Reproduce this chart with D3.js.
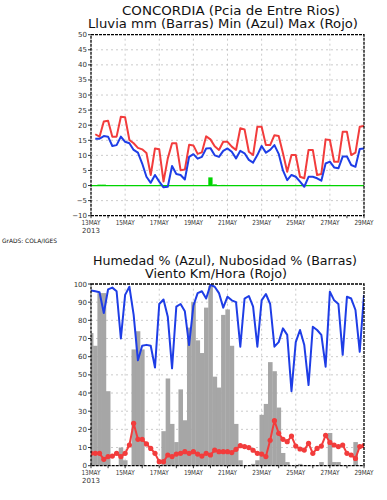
<!DOCTYPE html>
<html><head><meta charset="utf-8">
<script src="https://cdn.jsdelivr.net/npm/d3@7"></script>
<style>
html,body{margin:0;padding:0;background:#fff;}
svg{display:block;font-family:"DejaVu Sans",sans-serif;}
</style></head>
<body><div id="chart"></div>
<script>
// ---- data (6-hourly from 13MAY2013 00Z) ----
const startUTC = Date.UTC(2013, 4, 13, 0);
const stepHours = 6;
const xTickDays = [13, 15, 17, 19, 21, 23, 25, 27, 29];
const tempTicks = [-10, -5, 0, 5, 10, 15, 20, 25, 30, 35, 40, 45, 50];
const pctTicks = [0, 10, 20, 30, 40, 50, 60, 70, 80, 90, 100];

// top panel: temps start at step 1 (06Z)
const tempMax = [17.0,16.2,21.2,21.5,16.2,16.2,22.8,22.6,15.1,14.0,
  12.5,12.0,10.8,3.5,12.3,12.0,1.3,9.0,14.0,14.0,
  5.1,5.3,13.5,13.3,10.5,11.0,16.3,15.3,13.0,11.8,
  14.5,14.5,12.9,11.8,19.0,18.6,11.2,10.1,19.5,19.5,
  13.4,13.4,16.7,16.4,10.7,4.6,10.1,10.1,2.9,2.4,
  11.8,11.8,3.5,3.8,15.3,15.1,7.9,7.9,17.8,17.8,
  10.1,10.9,19.5,19.7];
const tempMin = [15.5,15.5,16.4,16.2,13.1,13.4,16.2,14.5,14.0,11.8,
  10.9,7.3,2.9,0.9,3.5,1.3,-0.6,-0.4,6.5,3.8,
  3.5,2.0,9.5,10.4,8.9,9.5,12.3,12.4,10.0,9.5,
  11.5,12.3,11.2,9.0,11.5,10.7,8.5,7.6,10.1,13.1,
  10.9,11.8,13.4,10.5,5.0,1.8,3.5,2.9,1.3,-0.4,
  2.9,2.9,2.4,1.6,7.3,7.9,6.0,5.7,9.6,9.6,
  6.8,6.2,12.1,12.3];
// precipitation from step 0
const rain = [0,0,0.3,0.3,0,0,0,0,0,0,
  0,0,0,0,0,0,0,0,0,0,
  0,0,0,0,0,0,0,0,2.7,0.4,
  0,0.2,0,0,0,0,0,0,0,0,
  0,0,0,0,0,0,0,0,0,0,
  0,0,0,0,0,0,0,0,0,0,
  0,0,0,0,0];

// bottom panel, from step 0
const humidity = [96.5,96,95.5,84,97,98,96,70,94,98.5,
  83,58,66,66.5,66,54,89,91.5,82,53.6,
  87.5,89,85,66.4,88,95,96,92,99.5,98.5,
  95,87,93,91,90,65.5,92,93.4,87.5,65.5,
  91,94.5,89,65.5,68,75.6,72,41,68,74.7,
  66.4,44.4,76.5,74.7,72,54.5,95.8,91,89,61,
  93,92,85.7,62.7,94];
const cloud = [73,66,95,95,41,0,0,10,3,0,
  64,74,64,0,0,0,0,19,48,23,
  13,42,25,76,90,69,62,87,99,49,
  43,83,86,66,23,3,0,0,1,3,
  28,34,57,52,32,7,2,0,0,1,
  0,0,0,0,2,0,18,2,2,0,
  0,0,13,0,0];
const wind = [6.8,6.8,6.8,3.5,5,5.3,6.8,5,6.8,11.4,
  23.3,14.5,14.5,12,9.5,6.8,2.2,2.2,5.9,5,
  6.4,6.8,7.7,6.8,7.7,6.4,5.3,6.8,5.9,8.6,
  7.7,7.7,7.7,7.2,9,11,10.5,10,8.5,6.8,
  6.4,5,14,24.8,17.8,14.5,13.2,16.3,10.8,9.2,
  8.6,12.3,6.8,9.5,10.8,16.7,12.8,11.4,10.5,11.4,
  6.8,5.9,4,10.5,11];

// ---- drawing ----
const W = 387, H = 500;
const svg = d3.select("#chart").append("svg").attr("width", W).attr("height", H);
const timeAt = i => new Date(startUTC + i * stepHours * 3600e3);
const x = d3.scaleUtc().domain([new Date(startUTC), new Date(Date.UTC(2013,4,29,0))]).range([91, 364]);
const step = x(timeAt(1)) - x(timeAt(0));
const fmt = d => d3.utcFormat("%d%b")(d).toUpperCase();

const RED = "#f23c3c", BLUE = "#1e3de6", GREEN = "#00d400", GRAY = "#a6a6a6";

function panel(id, y, yTicks, yLabelFmt) {
  const g = svg.append("g");
  const [y0, y1] = y.range();
  svg.append("clipPath").attr("id", id).append("rect")
    .attr("x", 91).attr("y", y1).attr("width", 273).attr("height", y0 - y1);
  g.append("g").selectAll("line").data(yTicks.slice(1, -1)).join("line")
    .attr("x1", 91).attr("x2", 364).attr("y1", d => y(d)).attr("y2", d => y(d))
    .attr("stroke", "#b4b4b4").attr("stroke-width", 0.7).attr("stroke-dasharray", "2,3");
  const xt = xTickDays.map(d => new Date(Date.UTC(2013, 4, d)));
  g.append("g").selectAll("line").data(xt.slice(1, -1)).join("line")
    .attr("x1", d => x(d)).attr("x2", d => x(d)).attr("y1", y0).attr("y2", y1)
    .attr("stroke", "#b4b4b4").attr("stroke-width", 0.7).attr("stroke-dasharray", "2,3");
  const plot = svg.append("g").attr("clip-path", `url(#${id})`);
  const frame = svg.append("g");
  frame.append("rect").attr("x", 91).attr("y", y1).attr("width", 273).attr("height", y0 - y1)
    .attr("fill", "none").attr("stroke", "#000").attr("stroke-width", 1.3).attr("stroke-dasharray", "3,1");
  frame.selectAll(".yt").data(yTicks).join("line")
    .attr("x1", 88).attr("x2", 91).attr("y1", d => y(d)).attr("y2", d => y(d))
    .attr("stroke", "#000").attr("stroke-width", 0.8);
  frame.selectAll(".yl").data(yTicks).join("text")
    .attr("x", 87).attr("y", d => y(d) + 2.5).attr("text-anchor", "end")
    .attr("font-size", 7).attr("fill", "#333")
    .text(yLabelFmt);
  const days = d3.utcDay.range(new Date(Date.UTC(2013,4,13)), new Date(Date.UTC(2013,4,29,1)));
  frame.selectAll(".xt").data(days).join("line")
    .attr("x1", d => x(d)).attr("x2", d => x(d)).attr("y1", y0).attr("y2", y0 + 2.5)
    .attr("stroke", "#000").attr("stroke-width", 0.8);
  frame.selectAll(".xl").data(xt).join("text")
    .attr("x", d => x(d)).attr("y", y0 + 9.5).attr("text-anchor", "middle")
    .attr("font-size", 7).attr("fill", "#333")
    .attr("textLength", 19).attr("lengthAdjust", "spacingAndGlyphs")
    .text(fmt);
  frame.append("text").attr("x", 91).attr("y", y0 + 17).attr("text-anchor", "middle")
    .attr("font-size", 7).attr("fill", "#333").text("2013");
  return plot;
}

// top panel
const yT = d3.scaleLinear().domain([-10, 50]).range([215.7, 34.7]);
const topPlot = panel("clipTop", yT, tempTicks, d => d < 0 ? "\u2212" + Math.abs(d) : d);
const rainPts = rain.map((v, i) => ({t: timeAt(i), v}));
topPlot.append("line").attr("x1", x(timeAt(0))).attr("x2", x(timeAt(rain.length - 1)))
  .attr("y1", yT(0)).attr("y2", yT(0)).attr("stroke", GREEN).attr("stroke-width", 1.2);
topPlot.selectAll(".rain").data(rainPts.filter(d => d.v > 0)).join("rect")
  .attr("x", d => x(d.t) - step / 2).attr("width", step)
  .attr("y", d => yT(d.v)).attr("height", d => yT(0) - yT(d.v)).attr("fill", GREEN);
const lineT = d3.line().x(d => x(d.t)).y(d => yT(d.v));
const maxPts = tempMax.map((v, i) => ({t: timeAt(i + 1), v}));
const minPts = tempMin.map((v, i) => ({t: timeAt(i + 1), v}));
topPlot.append("path").datum(maxPts).attr("d", lineT).attr("fill", "none")
  .attr("stroke", RED).attr("stroke-width", 2).attr("stroke-linejoin", "round");
topPlot.append("path").datum(minPts).attr("d", lineT).attr("fill", "none")
  .attr("stroke", BLUE).attr("stroke-width", 2).attr("stroke-linejoin", "round");

// bottom panel
const yB = d3.scaleLinear().domain([0, 100]).range([465.7, 284]);
const botPlot = panel("clipBot", yB, pctTicks, d => d);
const cloudPts = cloud.map((v, i) => ({t: timeAt(i), v}));
botPlot.selectAll(".cl").data(cloudPts.filter(d => d.v > 0)).join("rect")
  .attr("x", d => x(d.t) - step / 2).attr("width", step + 0.3)
  .attr("y", d => yB(d.v)).attr("height", d => yB(0) - yB(d.v)).attr("fill", GRAY);
const lineB = d3.line().x(d => x(d.t)).y(d => yB(d.v));
const humPts = humidity.map((v, i) => ({t: timeAt(i), v}));
const windPts = wind.map((v, i) => ({t: timeAt(i), v}));
botPlot.append("path").datum(humPts).attr("d", lineB).attr("fill", "none")
  .attr("stroke", BLUE).attr("stroke-width", 2).attr("stroke-linejoin", "round");
botPlot.append("path").datum(windPts).attr("d", lineB).attr("fill", "none")
  .attr("stroke", RED).attr("stroke-width", 2).attr("stroke-linejoin", "round");
botPlot.selectAll(".wd").data(windPts).join("circle")
  .attr("cx", d => x(d.t)).attr("cy", d => yB(d.v)).attr("r", 2.6).attr("fill", RED);

// titles
const title = (txt, x0, y0, len, fs) => svg.append("text").attr("x", x0).attr("y", y0)
  .attr("font-size", fs).attr("fill", "#111").attr("textLength", len)
  .attr("lengthAdjust", "spacingAndGlyphs").text(txt);
title("CONCORDIA (Pcia de Entre Rios)", 122, 15, 218, 11.5);
title("Lluvia mm (Barras) Min (Azul) Max (Rojo)", 88, 27.5, 270, 11.5);
title("Humedad % (Azul), Nubosidad % (Barras)", 93, 265, 264, 11.5);
title("Viento Km/Hora (Rojo)", 145, 277.5, 142, 11.5);
title("GrADS: COLA/IGES", 2, 243, 55, 6);
</script></body></html>
